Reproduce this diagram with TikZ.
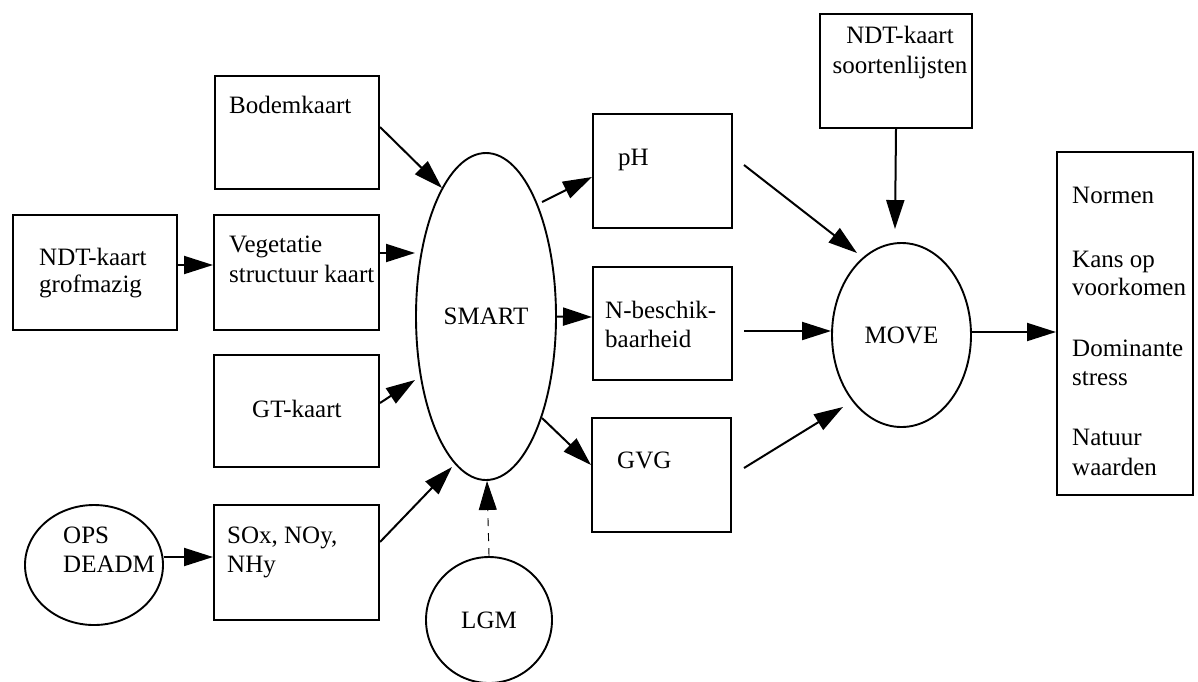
\documentclass[tikz,border=0pt]{standalone}
\usepackage{fontspec}
\setmainfont{Liberation Serif}
\usetikzlibrary{arrows.meta,shapes.geometric}
\newcommand\mlines[1]{\begin{tabular}[t]{@{}l@{}}#1\end{tabular}}
\newcommand\clines[1]{\begin{tabular}[t]{@{}c@{}}#1\end{tabular}}
\begin{document}
\begin{tikzpicture}[x=1pt,y=-1pt,
  box/.style={draw,line width=2pt,rectangle,inner sep=0pt},
  oval/.style={draw,line width=1.9pt,ellipse,inner sep=0pt,font=\fontsize{25}{29}\selectfont},
  txt/.style={anchor=base west,inner sep=0pt,font=\fontsize{25}{29}\selectfont},
  arr/.style={line width=2pt,-{Triangle[length=29pt,width=18pt]}},
  darr/.style={line width=0.9pt,dash pattern=on 8pt off 7pt,-{Triangle[length=29pt,width=18pt]}}]
\useasboundingbox (0,0) rectangle (1198,681);

% boxes
\node[box,minimum width=164pt,minimum height=113pt] (bod) at (297,132.5) {};
\node[box,minimum width=165pt,minimum height=115pt] (veg) at (296.5,272.5) {};
\node[box,minimum width=164pt,minimum height=115pt] (ndt) at (95,272.5) {};
\node[box,minimum width=165pt,minimum height=112pt] (gt) at (296.5,411) {};
\node[box,minimum width=165pt,minimum height=115pt] (sox) at (296.5,562.5) {};
\node[box,minimum width=139pt,minimum height=114pt] (ph) at (662.5,171) {};
\node[box,minimum width=139pt,minimum height=113pt] (nb) at (662.5,323.5) {};
\node[box,minimum width=139pt,minimum height=114pt] (gvg) at (661.5,475) {};
\node[box,minimum width=152pt,minimum height=114pt] (ndt2) at (896,71) {};
\node[box,minimum width=136pt,minimum height=343pt] (out) at (1125,323.5) {};

% ovals
\node[oval,minimum width=138pt,minimum height=120pt] (ops) at (94,565) {};
\node[oval,minimum width=140pt,minimum height=327pt] (smart) at (486,316.5) {SMART};
\node[oval,minimum width=139pt,minimum height=184pt] (move) at (901.5,335) {MOVE};
\node[oval,circle,minimum size=126pt] (lgm) at (489,620) {LGM};

% texts
\node[txt] (tbod) at (229,113) {Bodemkaart};
\node[txt,font=\fontsize{25}{30}\selectfont] (tveg) at (229,252) {\mlines{Vegetatie\\structuur kaart}};
\node[txt,font=\fontsize{25}{27}\selectfont] (tndt) at (39,265) {\mlines{NDT-kaart\\grofmazig}};
\node[txt] (tgt) at (252,417) {GT-kaart};
\node[txt] (tsox) at (227,543) {\mlines{SOx, NOy,\\NHy}};
\node[txt] (tops) at (63,543) {\mlines{OPS\\DEADM}};
\node[txt] (tph) at (618,165) {pH};
\node[txt] (tnb) at (605,318) {\mlines{N-beschik-\\baarheid}};
\node[txt] (tgvg) at (617,468) {GVG};
\node[txt,anchor=base,font=\fontsize{25}{30}\selectfont] (tndt2) at (900,43) {\clines{NDT-kaart\\soortenlijsten}};
\node[txt] (tnorm) at (1072,203) {Normen};
\node[txt,font=\fontsize{25}{28}\selectfont] (tkans) at (1072,267) {\mlines{Kans op\\voorkomen}};
\node[txt] (tdom) at (1072,356) {\mlines{Dominante\\stress}};
\node[txt,font=\fontsize{25}{30.5}\selectfont] (tnat) at (1072,445) {\mlines{Natuur\\waarden}};

% connectors
\draw[arr] ([shift={(0,-5.5)}]bod.east) -- ([shift={(-44,-128.5)}]smart.center);
\draw[arr] ([shift={(0,-19.5)}]veg.east) -- ([shift={(-71,-63.5)}]smart.center);
\draw[arr] ([shift={(0,-7.5)}]ndt.east) -- ([shift={(0,-7.5)}]veg.west);
\draw[arr] ([shift={(0,-8)}]gt.east) -- ([shift={(-71,63.5)}]smart.center);
\draw[arr] ([shift={(0,-20.5)}]sox.east) -- ([shift={(-34,150.5)}]smart.center);
\draw[arr] ([shift={(0,-8)}]ops.east) -- ([shift={(0,-5.5)}]sox.west);
\draw[darr] (lgm.north) -- ([shift={(1,0)}]smart.south);
\draw[arr] ([shift={(56,-114.5)}]smart.center) -- ([shift={(0,6)}]ph.west);
\draw[arr] (smart.east) -- ([shift={(0,-6.5)}]nb.west);
\draw[arr] ([shift={(56,101.5)}]smart.center) -- ([shift={(0,-10)}]gvg.west);
\draw[arr] ([shift={(11,-6)}]ph.east) -- ([shift={(-44.5,-82)}]move.center);
\draw[arr] ([shift={(11,7.5)}]nb.east) -- ([shift={(0,-4)}]move.west);
\draw[arr] ([shift={(12,-7)}]gvg.east) -- ([shift={(-58.5,72)}]move.center);
\draw[arr] (ndt2.south) -- ([shift={(-6.5,-13)}]move.north);
\draw[arr] ([shift={(0,-3)}]move.east) -- ([shift={(0,8.5)}]out.west);
\end{tikzpicture}
\end{document}
